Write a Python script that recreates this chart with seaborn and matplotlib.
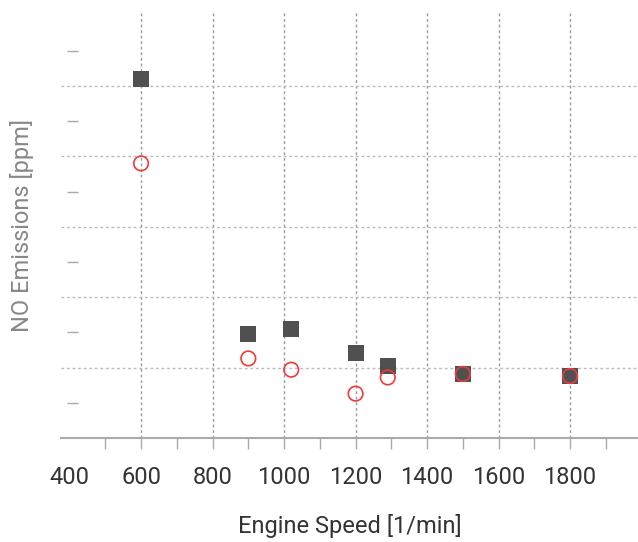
import matplotlib
matplotlib.use('Agg')
import matplotlib.pyplot as plt
import pandas as pd
import seaborn as sns

# Data (y axis unlabelled, arbitrary ppm scale)
speed = [600, 900, 1020, 1200, 1290, 1500, 1800]
no_measured = [510, 148, 155, 121, 102, 91, 88]
no_model = [390, 113, 97, 63, 86, 91, 88]
x_ticks = [400, 600, 800, 1000, 1200, 1400, 1600, 1800]
x_minor = [500, 700, 900, 1100, 1300, 1500, 1700, 1900]
y_grid = [0, 100, 200, 300, 400, 500]
y_minor = [50, 150, 250, 350, 450, 550]

df = pd.DataFrame({'speed': speed, 'measured': no_measured, 'model': no_model})

sns.set_style('white')
plt.rcParams['font.family'] = ['Roboto', 'DejaVu Sans']

fig = plt.figure(figsize=(6.38, 5.42), dpi=100)
ax = fig.add_axes([61 / 638, 104 / 542, 577 / 638, 426 / 542])

sns.scatterplot(data=df, x='speed', y='measured', marker='s', s=135,
                color='#505050', edgecolor='none', ax=ax, zorder=3)
sns.scatterplot(data=df, x='speed', y='model', marker='o', s=110,
                facecolor='none', edgecolor='#ee3b3b', linewidth=1.2, ax=ax, zorder=4)

ax.set_xlim(376, 1990)
ax.set_ylim(0, 605)
ax.set_xticks(x_ticks)
ax.set_xticks(x_minor, minor=True)
ax.set_yticks(y_grid)
ax.set_yticks(y_minor, minor=True)
ax.set_yticklabels([])

ax.grid(True, which='major', axis='x', color='#999999', linestyle=(0, (2, 2)), linewidth=1)
ax.grid(True, which='major', axis='y', color='#bbbbbb', linestyle=(0, (2, 2)), linewidth=1)
ax.get_xgridlines()[0].set_visible(False)
ax.set_axisbelow(True)

for side in ['top', 'right', 'left']:
    ax.spines[side].set_visible(False)
ax.spines['bottom'].set_color('#aaaaaa')
ax.spines['bottom'].set_linewidth(1.5)
ax.spines['left'].set_position(('outward', -4))

ax.tick_params(axis='x', which='both', bottom=True, direction='out', length=8, width=1,
               color='#aaaaaa', labelsize=17, labelcolor='#333333', pad=12)
ax.xaxis.get_major_ticks()[0].tick1line.set_visible(False)
ax.tick_params(axis='y', which='major', left=False, length=0)
ax.tick_params(axis='y', which='minor', left=True, direction='in', length=8, width=1,
               color='#aaaaaa')

ax.set_xlabel('Engine Speed [1/min]', fontsize=17, color='#333333', labelpad=18)
ax.set_ylabel('NO Emissions [ppm]', fontsize=17, color='#888888', labelpad=20)

fig.savefig('out.png', dpi=100)
